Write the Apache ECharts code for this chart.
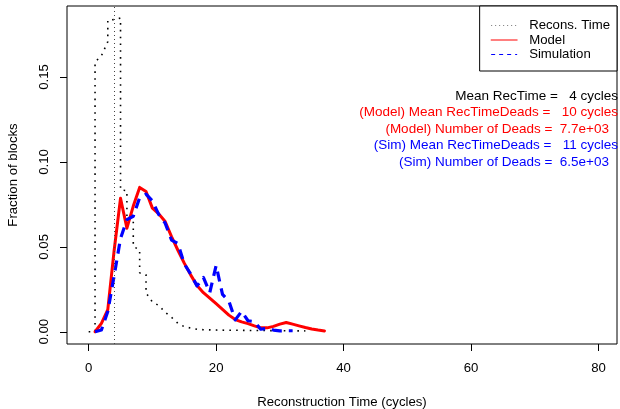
<!DOCTYPE html>
<html><head><meta charset="utf-8">
<script src="https://cdn.jsdelivr.net/npm/echarts@6/dist/echarts.min.js"></script>
<style>html,body{margin:0;padding:0;background:#fff}#c{width:620px;height:409px}</style>
</head><body><div id="c"></div>
<script>
// ---- data ----
const xTicks = [0, 20, 40, 60, 80];
const yTicks = [0, 0.05, 0.10, 0.15];

const reconTimeX = [0, 1, 1, 2, 3, 3, 4, 5, 5, 6, 6, 7, 7, 8, 8, 9, 9, 10, 11, 12, 13, 14, 15, 16, 17, 18, 20, 22, 25, 28, 31, 34];
const reconTimeY = [0, 0, 0.1588, 0.1625, 0.1708, 0.1835, 0.1838, 0.1847, 0.0835, 0.0831, 0.0659, 0.0659, 0.0502, 0.0482, 0.0347, 0.0335, 0.0229, 0.0175, 0.0155, 0.0115, 0.0085, 0.005, 0.003, 0.0022, 0.0015, 0.0012, 0.001, 0.0009, 0.0008, 0.0007, 0.0006, 0.0005];

const modelX = [1,2,3,4,5,6,7,8,9,10,11,12,13,14,15,16,17,18,19,20,21,22,23,24,25,26,27,28,29,30,31,32,33,34,35,36,37];
const modelY = [0, 0.005, 0.013, 0.048, 0.0786, 0.061, 0.074, 0.085, 0.0826, 0.0728, 0.0694, 0.0649, 0.056, 0.048, 0.0404, 0.0335, 0.0272, 0.023, 0.0198, 0.0165, 0.0132, 0.0098, 0.0072, 0.0058, 0.0048, 0.0035, 0.0023, 0.0023, 0.0032, 0.0045, 0.0055, 0.0045, 0.0035, 0.0025, 0.0016, 0.001, 0.0005];

const simX = [1,2,3,4,5,6,7,8,9,10,11,12,13,14,15,16,17,18,19,20,21,22,23,24,25,26,27,28,29,30,31,32];
const simY = [0, 0.001, 0.012, 0.033, 0.055, 0.066, 0.068, 0.079, 0.081, 0.077, 0.069, 0.064, 0.054, 0.052, 0.04, 0.034, 0.027, 0.032, 0.023, 0.039, 0.022, 0.018, 0.007, 0.012, 0.0065, 0.006, 0.0015, 0.002, 0.001, 0.0005, 0.0006, 0.0006];

const meanRecTime = 4;
const seriesNames = ['Recons. Time', 'Model', 'Simulation'];
const infoTexts = [
  'Mean RecTime =   4 cycles',
  '(Model) Mean RecTimeDeads =   10 cycles',
  '(Model) Number of Deads =  7.7e+03',
  '(Sim) Mean RecTimeDeads =   11 cycles',
  '(Sim) Number of Deads =  6.5e+03'
];
const infoColors = ['#000000', '#ff0000', '#ff0000', '#0000ff', '#0000ff'];

// ---- chart ----
const FONT = '"Liberation Sans", Arial, Helvetica, sans-serif';
const FS = 13.2;
const FS_INFO = 13.5;
const pairs = (xs, ys) => xs.map((x, i) => [x, ys[i]]);

const chart = echarts.init(document.getElementById('c'), null, {renderer: 'canvas'});

const infoRight = [618, 618, 609, 618, 609];
const infoY = [96, 112.5, 129, 145.5, 162];

chart.setOption({
  animation: false,
  backgroundColor: '#ffffff',
  grid: {left: 67, right: 3, top: 6, bottom: 65, show: true, borderColor: '#000', borderWidth: 1,
    backgroundColor: 'transparent', containLabel: false, outerBoundsMode: 'none'},
  xAxis: {
    type: 'value', min: -3.4, max: 82.9,
    axisLine: {show: false, onZero: false},
    axisTick: {show: true, customValues: xTicks, length: 7, lineStyle: {color: '#000', width: 1}},
    axisLabel: {customValues: xTicks, margin: 18, fontSize: FS, fontFamily: FONT, color: '#000'},
    splitLine: {show: false},
    name: 'Reconstruction Time (cycles)', nameLocation: 'middle', nameGap: 52,
    nameTextStyle: {fontSize: FS, fontFamily: FONT, color: '#000'}
  },
  yAxis: {
    type: 'value', min: -0.0072, max: 0.1918,
    axisLine: {show: false, onZero: false},
    axisTick: {show: true, customValues: yTicks, length: 7, lineStyle: {color: '#000', width: 1}},
    axisLabel: {customValues: yTicks, rotate: 90, margin: 16, fontSize: FS, fontFamily: FONT, color: '#000',
      formatter: v => v.toFixed(2)},
    splitLine: {show: false},
    name: 'Fraction of blocks', nameLocation: 'middle', nameGap: 47,
    nameTextStyle: {fontSize: FS, fontFamily: FONT, color: '#000'}
  },
  legend: {
    right: 3, top: 6, orient: 'vertical', align: 'left',
    padding: [13, 7, 10, 11],
    itemWidth: 26, itemHeight: 10, itemGap: 1.5,
    borderColor: '#000', borderWidth: 1, borderRadius: 0, backgroundColor: '#fff',
    textStyle: {fontSize: FS, fontFamily: FONT, color: '#000', padding: [0, 0, 0, 7]},
    data: [
      {name: seriesNames[0], itemStyle: {opacity: 0}, lineStyle: {color: '#777', width: 1, type: [1, 3]}},
      {name: seriesNames[1], itemStyle: {opacity: 0}, lineStyle: {color: '#ff0000', width: 1, type: 'solid'}},
      {name: seriesNames[2], itemStyle: {opacity: 0}, lineStyle: {color: '#0000ff', width: 1, type: [4, 4]}}
    ]
  },
  series: [
    {
      name: seriesNames[0], type: 'line', data: pairs(reconTimeX, reconTimeY),
      symbol: 'none', showSymbol: false, z: 2,
      lineStyle: {color: '#000', width: 1.6, type: [1.6, 5.2], cap: 'butt'},
      markLine: {
        silent: true, symbol: ['none', 'none'], label: {show: false},
        lineStyle: {color: '#444', width: 1, type: [1, 3]},
        data: [{xAxis: meanRecTime}]
      }
    },
    {
      name: seriesNames[1], type: 'line', data: pairs(modelX, modelY),
      symbol: 'none', showSymbol: false, z: 3,
      lineStyle: {color: '#ff0000', width: 3, cap: 'round', join: 'round'}
    },
    {
      name: seriesNames[2], type: 'line', data: pairs(simX, simY),
      symbol: 'none', showSymbol: false, z: 4,
      lineStyle: {color: '#0000ff', width: 3.2, type: [10, 7], cap: 'butt', join: 'round'}
    }
  ],
  graphic: infoTexts.map((t, i) => ({
    type: 'text', x: infoRight[i], y: infoY[i], z: 10,
    style: {text: t, align: 'right', verticalAlign: 'middle', fill: infoColors[i],
      font: FS_INFO + 'px ' + FONT}
  }))
});
</script></body></html>
